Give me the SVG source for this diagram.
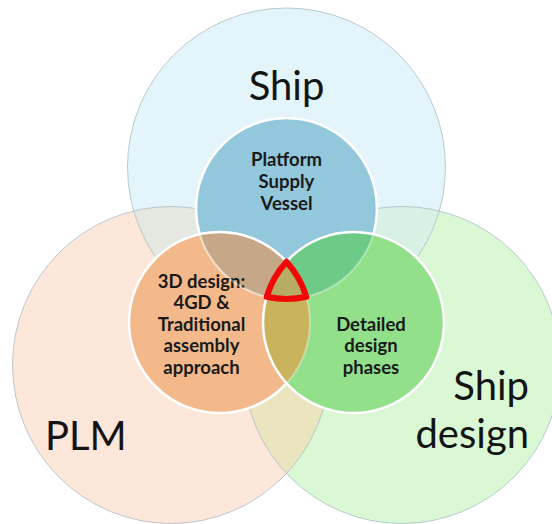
<svg xmlns="http://www.w3.org/2000/svg" width="552" height="524" viewBox="0 0 552 524">
<style>
.big{font-family:Lato,"Open Sans","Liberation Sans",sans-serif;font-size:40px;fill:#141414}
.in{font-family:Lato,"Open Sans","Liberation Sans",sans-serif;font-size:18.5px;font-weight:bold;fill:#1a1a1a;text-anchor:middle}
.bo{fill:none;stroke:#aabdc6;stroke-width:0.8}
.io{fill:none;stroke:#ffffff;stroke-width:2.5}
.iof{fill:none;stroke:#ffffff;stroke-width:2;opacity:0.35}
</style>
<defs>
<clipPath id="cBT"><circle cx="286.5" cy="167" r="159"/></clipPath>
<clipPath id="cBL"><circle cx="171" cy="365" r="158.5"/></clipPath>
<clipPath id="cIT"><circle cx="286.5" cy="208.5" r="90.5"/></clipPath>
<clipPath id="cIL"><circle cx="219.5" cy="322.5" r="90.5"/></clipPath>
</defs>
<rect width="552" height="524" fill="#ffffff"/>
<g id="node-ship">
<circle cx="286.5" cy="167" r="159" fill="#e4f4fb"/>
<text class="big" x="286.5" y="100" text-anchor="middle">Ship</text>
</g>
<g id="node-plm">
<circle cx="171" cy="365" r="158.5" fill="#fde7da"/>
<g clip-path="url(#cBT)"><circle cx="171" cy="365" r="158.5" fill="#e5e8e1"/></g>
<text class="big" x="45" y="450">PLM</text>
</g>
<g id="node-ship-design">
<circle cx="402" cy="365" r="158.5" fill="#dbf8d5"/>
<g clip-path="url(#cBT)"><circle cx="402" cy="365" r="158.5" fill="#d7f2e5"/></g>
<g clip-path="url(#cBL)"><circle cx="402" cy="365" r="158.5" fill="#eae5bf"/>
<g clip-path="url(#cBT)"><circle cx="402" cy="365" r="158.5" fill="#dde1c8"/></g></g>
<text class="big" x="529" y="400" text-anchor="end">Ship</text>
<text class="big" x="529" y="448" text-anchor="end">design</text>
</g>
<g id="big-outlines">
<circle class="bo" cx="286.5" cy="167" r="159"/>
<circle class="bo" cx="171" cy="365" r="158.5"/>
<circle class="bo" cx="402" cy="365" r="158.5"/>
</g>
<g id="node-psv">
<circle cx="286.5" cy="208.5" r="90.5" fill="#93c8dc"/>
<circle class="io" cx="286.5" cy="208.5" r="90.5"/>
<text class="in" x="286.5" y="166">Platform</text>
<text class="in" x="286.5" y="188">Supply</text>
<text class="in" x="286.5" y="209.5">Vessel</text>
</g>
<g id="node-3d">
<circle cx="219.5" cy="322.5" r="90.5" fill="#f3b98b"/>
<g clip-path="url(#cIT)"><circle cx="219.5" cy="322.5" r="90.5" fill="#c6a888"/></g>
<circle class="iof" cx="286.5" cy="208.5" r="90.5"/>
<circle class="io" cx="219.5" cy="322.5" r="90.5"/>
<text class="in" x="201.5" y="287.5">3D design:</text>
<text class="in" x="201.5" y="309">4GD &amp;</text>
<text class="in" x="201.5" y="330.5">Traditional</text>
<text class="in" x="201.5" y="352">assembly</text>
<text class="in" x="201.5" y="373.5">approach</text>
</g>
<g id="node-detailed">
<circle cx="353.5" cy="322.5" r="90.5" fill="#93e08b"/>
<g clip-path="url(#cIT)"><circle cx="353.5" cy="322.5" r="90.5" fill="#6ecb87"/></g>
<g clip-path="url(#cIL)"><circle cx="353.5" cy="322.5" r="90.5" fill="#c9b45d"/>
<g clip-path="url(#cIT)"><circle cx="353.5" cy="322.5" r="90.5" fill="#b6ad62"/></g></g>
<circle class="iof" cx="286.5" cy="208.5" r="90.5"/>
<circle class="iof" cx="219.5" cy="322.5" r="90.5"/>
<circle class="io" cx="353.5" cy="322.5" r="90.5"/>
<text class="in" x="371" y="330.5">Detailed</text>
<text class="in" x="371" y="352">design</text>
<text class="in" x="371" y="373.5">phases</text>
</g>
<g id="highlight">
<path d="M286.5 261.7 A90.5 90.5 0 0 1 306.3 296.8 A90.5 90.5 0 0 1 266.7 296.8 A90.5 90.5 0 0 1 286.5 261.7 Z" fill="none" stroke="#f00808" stroke-width="6" stroke-linejoin="round"/>
</g>
</svg>
